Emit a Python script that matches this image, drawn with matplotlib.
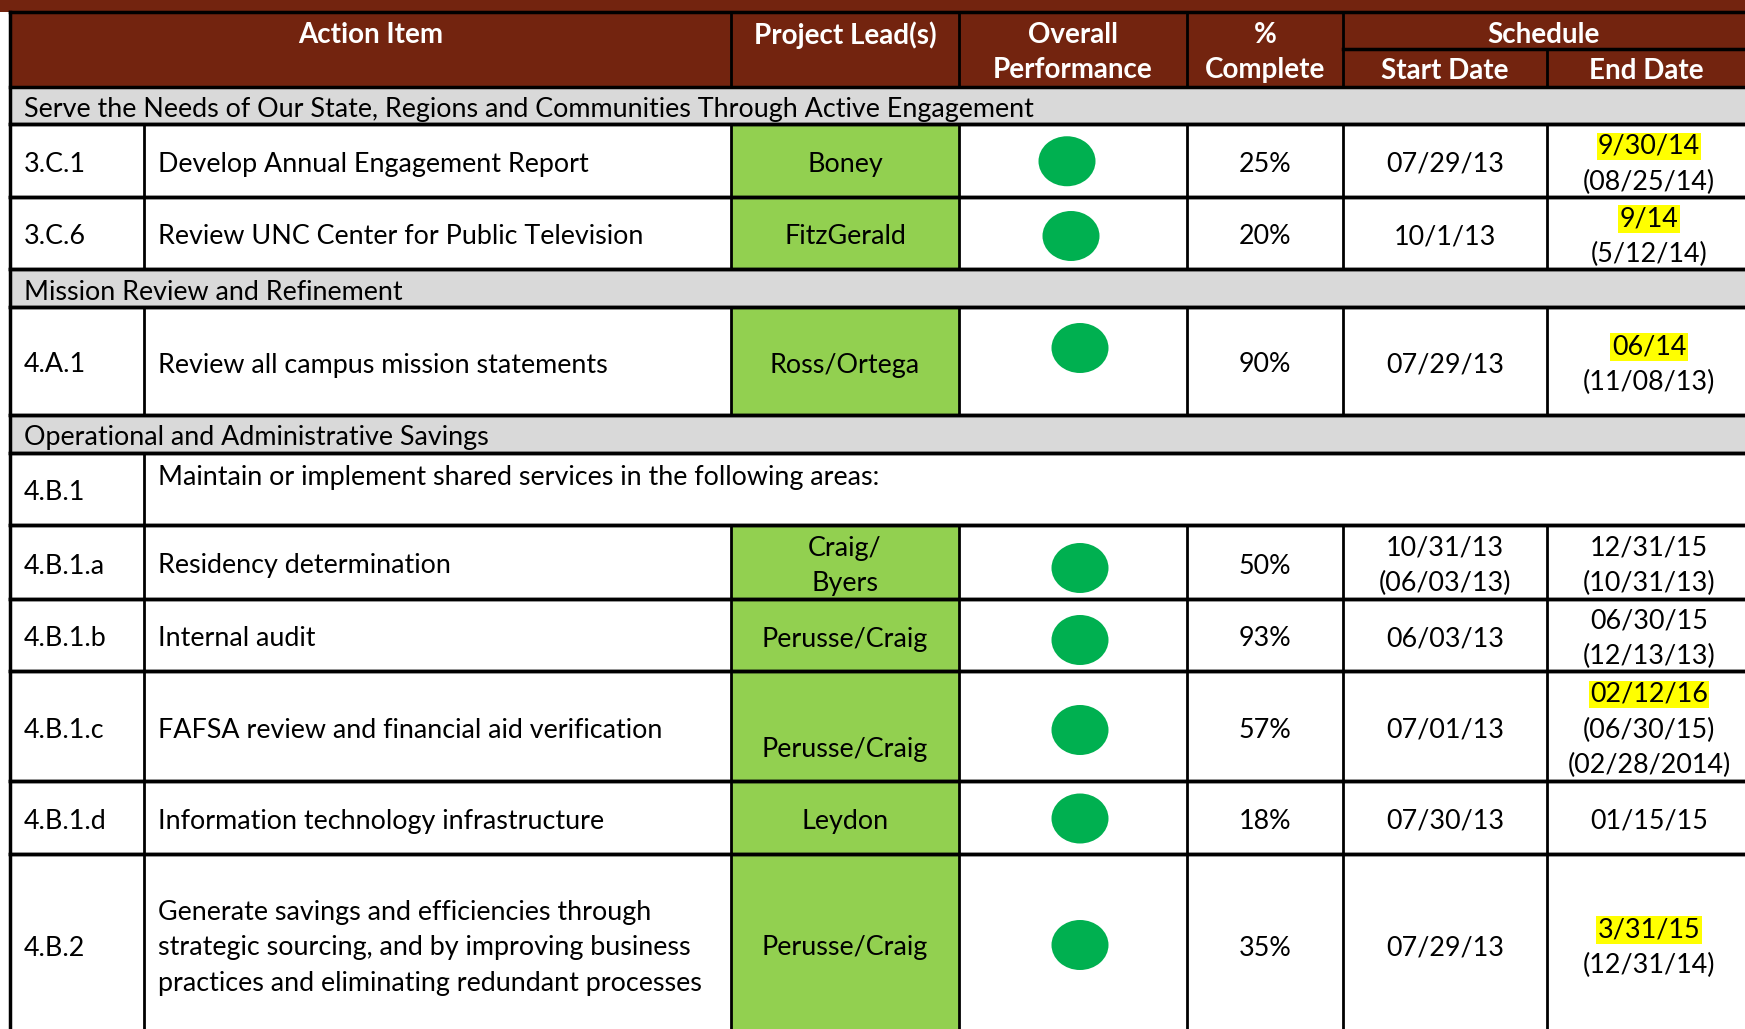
import matplotlib.pyplot as plt
from matplotlib.patches import Rectangle, Ellipse

plt.rcParams['font.family'] = ['Lato', 'DejaVu Sans']

# ---- table content ----
header_cols = ['Action Item', 'Project Lead(s)', 'Overall\nPerformance', '%\nComplete']
schedule_title = 'Schedule'
schedule_cols = ['Start Date', 'End Date']

sections = ['Serve the Needs of Our State, Regions and Communities Through Active Engagement',
            'Mission Review and Refinement',
            'Operational and Administrative Savings']

item_ids = ['3.C.1', '3.C.6', '4.A.1', '4.B.1', '4.B.1.a', '4.B.1.b', '4.B.1.c', '4.B.1.d', '4.B.2']
item_desc = ['Develop Annual Engagement Report',
             'Review UNC Center for Public Television',
             'Review all campus mission statements',
             'Maintain or implement shared services in the following areas:',
             'Residency determination',
             'Internal audit',
             'FAFSA review and financial aid verification',
             'Information technology infrastructure',
             'Generate savings and efficiencies through\nstrategic sourcing, and by improving business\npractices and eliminating redundant processes']
leads = ['Boney', 'FitzGerald', 'Ross/Ortega', None, 'Craig/\nByers', 'Perusse/Craig',
         'Perusse/Craig', 'Leydon', 'Perusse/Craig']
status = ['green', 'green', 'green', None, 'green', 'green', 'green', 'green', 'green']
pct_complete = [25, 20, 90, None, 50, 93, 57, 18, 35]
start_dates = ['07/29/13', '10/1/13', '07/29/13', None, '10/31/13\n(06/03/13)', '06/03/13',
               '07/01/13', '07/30/13', '07/29/13']
end_dates = [['9/30/14', '(08/25/14)'], ['9/14', '(5/12/14)'], ['06/14', '(11/08/13)'], None,
             ['12/31/15', '(10/31/13)'], ['06/30/15', '(12/13/13)'],
             ['02/12/16', '(06/30/15)', '(02/28/2014)'], ['01/15/15'],
             ['3/31/15', '(12/31/14)']]
end_highlight = [True, True, True, False, False, False, True, False, True]

# ---- layout (pixel coords) ----
W, H = 1745, 1029
x_left = 10
col_x = [x_left, 144, 731, 959, 1187, 1343, 1547, W]
top_line, sched_split, head_bot = 12, 49, 87
row_kind = ['s', 'i', 'i', 's', 'i', 's', 'i', 'i', 'i', 'i', 'i', 'i']
row_edges = [87, 123.5, 197, 269, 307, 415, 453, 525, 599, 671, 781, 854, 1034]
circle_dx = [-6, -2, 7, 0, 7, 7, 7, 7, 7]
circle_dy = [1, 3, -13, 0, 6, 5, 4, 1, 1]
lead_dy = [0, 0, 0, 0, 0, 0, 19, 0, 0]

brown = '#73240F'
gray = '#D9D9D9'
lead_green = '#92D050'
dot_green = '#00B050'
fs = 19.4
hfs = 20
line_sp = 35.6
dy = 4  # baseline nudge

fig = plt.figure(figsize=(W / 100, H / 100), dpi=100)
ax = fig.add_axes([0, 0, 1, 1])
ax.set_xlim(0, W)
ax.set_ylim(H, 0)
ax.axis('off')


def cell_text(x, yc, txt, ha='center', highlight=False, **kw):
    lines = txt.split('\n')
    for k, p in enumerate(lines):
        ly = yc + dy + (k - (len(lines) - 1) / 2) * line_sp
        bb = None
        if highlight and k == 0:
            bb = dict(facecolor='#FFFF00', edgecolor='none', pad=1)
        ax.text(x, ly, p, fontsize=fs, ha=ha, va='center', bbox=bb, **kw)


# header
ax.add_patch(Rectangle((x_left, 0), W - x_left, head_bot, color=brown, lw=0))
ax.add_patch(Rectangle((0, 0), x_left, top_line, color=brown, lw=0))
hcx = [(col_x[0] + col_x[2]) / 2, (col_x[2] + col_x[3]) / 2,
       (col_x[3] + col_x[4]) / 2, (col_x[4] + col_x[5]) / 2]
for cx, txt in zip(hcx, header_cols):
    for k, p in enumerate(txt.split('\n')):
        ax.text(cx, 35 + k * 35, p, color='white', fontsize=hfs, fontweight='bold',
                ha='center', va='center')
ax.text((col_x[5] + W) / 2, 35, schedule_title, color='white', fontsize=hfs,
        fontweight='bold', ha='center', va='center')
for k, txt in enumerate(schedule_cols):
    ax.text((col_x[5 + k] + col_x[6 + k]) / 2, 71, txt, color='white', fontsize=hfs,
            fontweight='bold', ha='center', va='center')
ax.plot([x_left, W], [top_line, top_line], color='black', lw=2.5)
ax.plot([col_x[5], W], [sched_split, sched_split], color='black', lw=2.5)
for x in col_x[2:6]:
    ax.plot([x, x], [top_line, head_bot], color='black', lw=2)
ax.plot([col_x[6], col_x[6]], [sched_split, head_bot], color='black', lw=2)

# body
si = 0
ii = 0
for r, kind in enumerate(row_kind):
    y0, y1 = row_edges[r], row_edges[r + 1]
    yc = (y0 + y1) / 2
    if kind == 's':
        ax.add_patch(Rectangle((x_left, y0), W - x_left, y1 - y0, color=gray, lw=0))
        cell_text(24, yc, sections[si], ha='left')
        si += 1
    else:
        cell_text(24, yc, item_ids[ii], ha='left')
        if leads[ii] is None:
            cell_text(158, yc - 16, item_desc[ii], ha='left')
            ax.plot([col_x[1], col_x[1]], [y0, y1], color='black', lw=2)
        else:
            cell_text(158, yc, item_desc[ii], ha='left')
            ax.add_patch(Rectangle((col_x[2], y0), col_x[3] - col_x[2], y1 - y0,
                                   color=lead_green, lw=0))
            cell_text((col_x[2] + col_x[3]) / 2, yc + lead_dy[ii], leads[ii])
            ax.add_patch(Ellipse(((col_x[3] + col_x[4]) / 2 + circle_dx[ii], yc + circle_dy[ii]),
                                 57, 50, color=dot_green, lw=0))
            cell_text((col_x[4] + col_x[5]) / 2, yc, f'{pct_complete[ii]}%')
            cell_text((col_x[5] + col_x[6]) / 2, yc, start_dates[ii])
            cell_text((col_x[6] + col_x[7]) / 2 + 3, yc, '\n'.join(end_dates[ii]),
                      highlight=end_highlight[ii])
            for x in col_x[1:7]:
                ax.plot([x, x], [y0, y1], color='black', lw=2)
        ii += 1
    ax.plot([x_left, W], [y1, y1], color='black', lw=2.5)
    ax.plot([x_left, W], [y0, y0], color='black', lw=2.5)

ax.plot([x_left, x_left], [top_line, H], color='black', lw=2.5)

fig.savefig('out.png', dpi=100)
